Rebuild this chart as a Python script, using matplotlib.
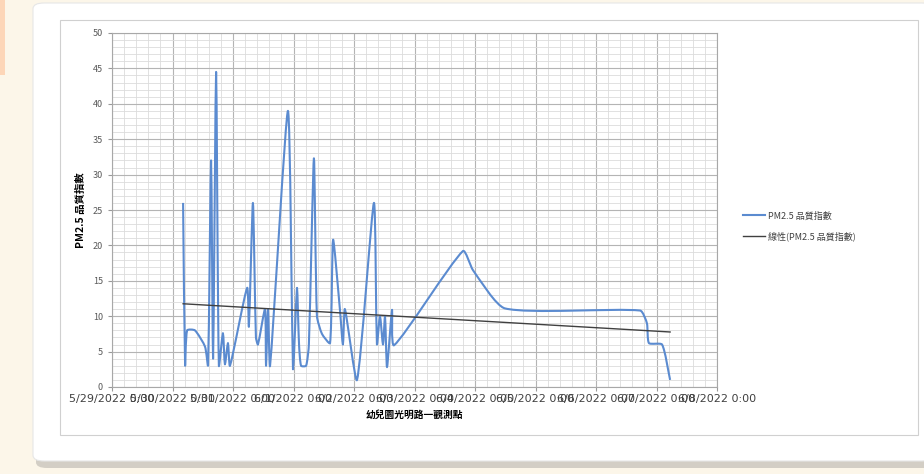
import matplotlib
matplotlib.use('Agg')
import matplotlib.pyplot as plt
import matplotlib.patches as patches
from matplotlib.path import Path
from matplotlib.lines import Line2D
import numpy as np
import datetime as dt

plt.rcParams['font.family'] = ['Noto Sans CJK TC', 'DejaVu Sans']

# 資料：距 2022/5/29 0:00 的小時數，以及 PM2.5 品質指數
start_date = dt.date(2022, 5, 29)
hours = [28.2, 29.0, 29.8, 32.9, 36.9, 38.1, 39.3, 40.1, 41.3, 42.4,
         44.0, 44.8, 46.0, 46.8, 53.6, 54.3, 55.9, 57.1, 57.9, 60.7,
         61.1, 61.9, 62.7, 69.8, 71.8, 72.6, 73.4, 74.2, 75.0, 77.0,
         78.1, 80.1, 81.3, 83.3, 86.5, 87.7, 90.4, 91.6, 92.4, 97.2,
         103.9, 105.1, 106.3, 107.5, 108.3, 109.1, 111.1, 111.9, 139.2, 143.2,
         155.9, 209.5, 212.2, 213.0, 218.2, 221.4]
pm25 = [26, 3, 8, 8, 5.7, 3, 32, 4, 44.5, 3,
        7.6, 3.2, 6.2, 3, 14, 8.5, 26, 7, 6, 11,
        3, 11, 3, 39, 2.5, 8, 14, 6, 3, 3,
        6, 32.3, 10, 7.5, 6.2, 20.8, 11, 6, 11, 1,
        26, 6, 10, 6, 10, 2.8, 10.9, 5.9, 19.2, 16.5,
        11.1, 10.8, 9, 6.2, 6, 1]
n_days = 10

series_name = 'PM2.5 品質指數'
trend_name = '線性(PM2.5 品質指數)'
x_title = '幼兒園光明路一觀測點'
y_title = 'PM2.5 品質指數'

x = np.array(hours) / 24.0
y = np.array(pm25, dtype=float)


def smooth_path(ax, xs, ys, tension=0.2):
    # 平滑線：以畫面座標做弦長加權的 Bezier
    pts = ax.transData.transform(np.column_stack([xs, ys]))
    ext = np.vstack([pts[0], pts, pts[-1]])
    verts = [pts[0]]
    codes = [Path.MOVETO]
    for i in range(len(pts) - 1):
        p0, p1, p2, p3 = ext[i], ext[i + 1], ext[i + 2], ext[i + 3]
        l01 = np.hypot(*(p1 - p0))
        l12 = np.hypot(*(p2 - p1))
        l23 = np.hypot(*(p3 - p2))
        f1 = l12 / (l01 + l12) * tension if l01 + l12 > 0 else 0
        f2 = l12 / (l12 + l23) * tension if l12 + l23 > 0 else 0
        verts += [p1 + (p2 - p0) * f1, p2 - (p3 - p1) * f2, p2]
        codes += [Path.CURVE4] * 3
    verts = ax.transData.inverted().transform(np.array(verts))
    return Path(verts, codes)


fig = plt.figure(figsize=(9.24, 4.74), dpi=100, facecolor='#fcf6e9')

# 背景卡片
bg = [
    patches.Rectangle((0, 1 - 75 / 474), 5 / 924, 75 / 474, fc='#fdd6b8', ec='none'),
    patches.FancyBboxPatch((36 / 924, 1 - 468 / 474), 900 / 924, 462 / 474,
                           boxstyle='round,pad=0,rounding_size=0.012',
                           fc='#b8b4ad', ec='none', alpha=0.6),
    patches.FancyBboxPatch((33 / 924, 1 - 461 / 474), 900 / 924, 458 / 474,
                           boxstyle='round,pad=0,rounding_size=0.012',
                           fc='white', ec='#e6e6e6', lw=0.8),
    patches.Rectangle((60 / 924, 1 - 435 / 474), 858 / 924, 415 / 474,
                      fc='none', ec='#d0d0d0', lw=0.8),
]
for p in bg:
    p.set_transform(fig.transFigure)
    p.set_zorder(-10)
    fig.patches.append(p)

ax = fig.add_axes([112 / 924, 1 - 387 / 474, 605 / 924, 354 / 474])
ax.set_zorder(5)
ax.set_facecolor('white')
ax.set_xlim(0, n_days)
ax.set_ylim(0, 50)

line_color = '#5b8bd0'
ax.add_patch(patches.PathPatch(smooth_path(ax, x, y), fill=False, ec=line_color,
                               lw=1.5, zorder=3, joinstyle='round'))

# 線性趨勢線
k, b = np.polyfit(x, y, 1)
tx = np.array([x.min(), x.max()])
ax.plot(tx, k * tx + b, color='#404040', lw=1.0, zorder=4)

ax.set_xticks(np.arange(0, n_days + 1))
ax.set_xticks(np.arange(0, n_days, 0.2), minor=True)
ax.set_yticks(np.arange(0, 51, 5))
ax.set_yticks(np.arange(0, 50, 1), minor=True)
labels = []
for d in range(n_days + 1):
    day = start_date + dt.timedelta(days=d)
    labels.append(f'{day.month}/{day.day}/{day.year} 0:00')
ax.set_xticklabels(labels, fontsize=8, color='#404040', family='DejaVu Sans')
ax.tick_params(axis='y', labelsize=6.5, labelcolor='#595959', length=3, color='#999999')
ax.tick_params(axis='x', length=3, color='#999999', pad=2)
ax.tick_params(which='minor', length=0)

ax.grid(which='major', color='#b4b4b4', lw=0.8)
ax.grid(which='minor', color='#dcdcdc', lw=0.6)
ax.set_axisbelow(True)
for s in ax.spines.values():
    s.set_color('#a8a8a8')
    s.set_linewidth(0.8)

ax.set_xlabel(x_title, fontsize=7, fontweight='bold', labelpad=4)
ax.set_ylabel(y_title, fontsize=7.5, fontweight='bold', labelpad=5)

handles = [Line2D([], [], color=line_color, lw=1.5), Line2D([], [], color='#404040', lw=1.0)]
fig.legend(handles, [series_name, trend_name], loc='center left',
           bbox_to_anchor=(735 / 924, 1 - 226 / 474), frameon=False,
           fontsize=6.5, handlelength=2.4, handletextpad=0.3, labelspacing=1.2,
           labelcolor='#404040')

fig.savefig('out.png', dpi=100, facecolor=fig.get_facecolor())
